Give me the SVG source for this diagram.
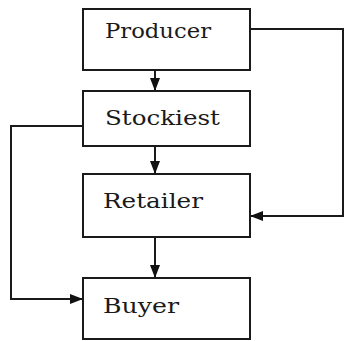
<svg xmlns="http://www.w3.org/2000/svg" width="344" height="341" viewBox="0 0 344 341">
  <style>
    .box { fill: #ffffff; stroke: #1a1a1a; stroke-width: 2; }
    .lbl { font-family: "DejaVu Serif", "Liberation Serif", serif; font-size: 20px; fill: #1a1a1a; }
    .wire { fill: none; stroke: #1a1a1a; stroke-width: 2; }
  </style>
  <defs>
    <marker id="head" viewBox="0 0 13 10" refX="13" refY="5" markerWidth="13" markerHeight="10" markerUnits="userSpaceOnUse" orient="auto">
      <path d="M0,0 L13,5 L0,10 Z" fill="#111111"/>
    </marker>
  </defs>
  <rect width="344" height="341" fill="#ffffff"/>

  <g id="connectors">
    <line class="wire" x1="155" y1="70" x2="155" y2="91" marker-end="url(#head)"/>
    <line class="wire" x1="155" y1="146" x2="155" y2="174" marker-end="url(#head)"/>
    <line class="wire" x1="155" y1="237" x2="155" y2="278" marker-end="url(#head)"/>
    <polyline class="wire" points="250,29 343,29 343,216 250,216" marker-end="url(#head)"/>
    <polyline class="wire" points="83,126 11,126 11,299 83,299" marker-end="url(#head)"/>
  </g>

  <g id="producer">
    <rect class="box" x="83" y="9" width="167" height="61"/>
    <text class="lbl" x="105" y="38" textLength="106" lengthAdjust="spacingAndGlyphs">Producer</text>
  </g>
  <g id="stockiest">
    <rect class="box" x="83" y="91" width="167" height="55"/>
    <text class="lbl" x="105" y="125" textLength="115" lengthAdjust="spacingAndGlyphs">Stockiest</text>
  </g>
  <g id="retailer">
    <rect class="box" x="83" y="174" width="167" height="63"/>
    <text class="lbl" x="103" y="208" textLength="100" lengthAdjust="spacingAndGlyphs">Retailer</text>
  </g>
  <g id="buyer">
    <rect class="box" x="83" y="278" width="167" height="61"/>
    <text class="lbl" x="103" y="313" textLength="76" lengthAdjust="spacingAndGlyphs">Buyer</text>
  </g>
</svg>
